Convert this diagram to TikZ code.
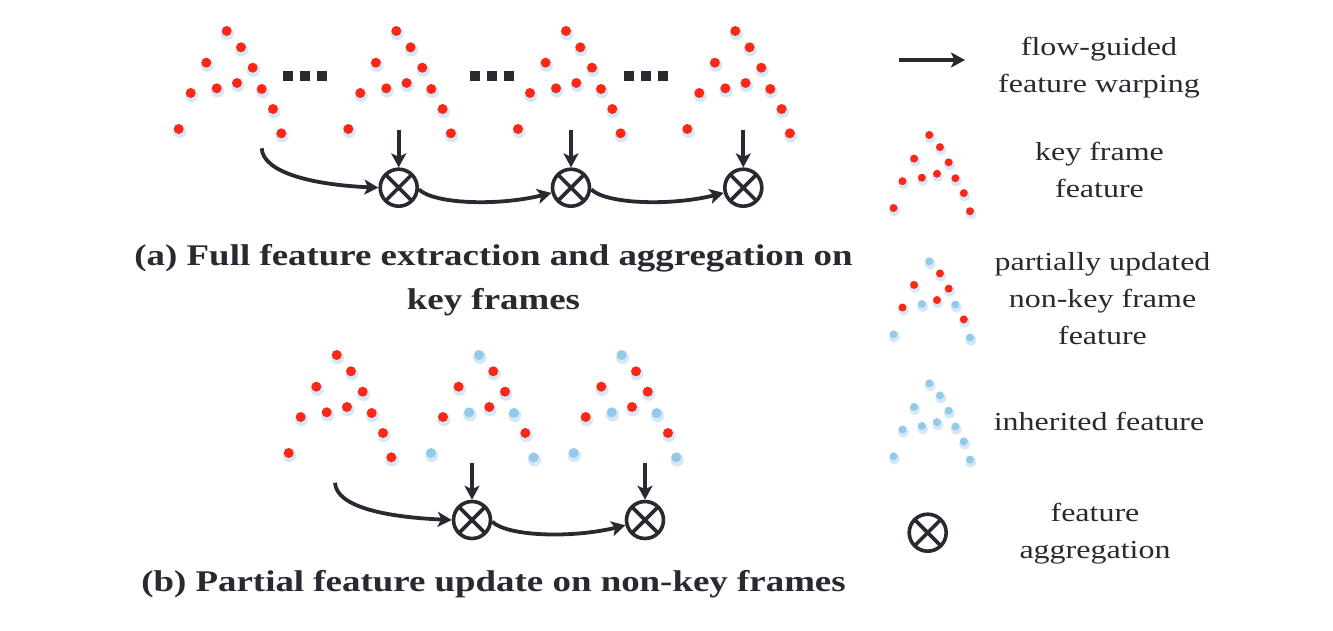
\documentclass[tikz,border=0pt]{standalone}
\usepackage{fontspec}
\setmainfont{Liberation Serif}[FakeStretch=1.23]
\usetikzlibrary{arrows.meta}
\definecolor{ink}{RGB}{40,42,50}
\definecolor{kred}{RGB}{252,40,22}
\definecolor{iblue}{RGB}{145,203,233}
\definecolor{dotshade}{RGB}{212,232,249}
\def\keylist{0/0/kred, 14.3/16.3/kred, -20.4/31.7/kred, 26/36.7/kred, -36/62/kred, -10/57.3/kred, 10.3/52/kred, 35/58/kred, 46.3/78/kred, -48/98/kred, 54.6/102.3/kred}
\def\partlist{0/0/iblue, 14.3/16.3/kred, -20.4/31.7/kred, 26/36.7/kred, -36/62/kred, -10/57.3/iblue, 10.3/52/kred, 35/58/iblue, 46.3/78/kred, -48/98/iblue, 54.6/102.3/iblue}
\def\inhlist{0/0/iblue, 14.3/16.3/iblue, -20.4/31.7/iblue, 26/36.7/iblue, -36/62/iblue, -10/57.3/iblue, 10.3/52/iblue, 35/58/iblue, 46.3/78/iblue, -48/98/iblue, 54.6/102.3/iblue}
\newcommand\featdots[5]{%
  \foreach \dx/\dy/\c in #5 {
    \fill[dotshade] ({#1+#3*\dx+0.8},{#2+#3*\dy+2.6}) circle ({#4+1.6});
  }
  \foreach \dx/\dy/\c in #5 {
    \fill[\c] ({#1+#3*\dx},{#2+#3*\dy}) circle (#4);
  }
}
\newcommand\etcdots[2]{%
  \foreach \k in {-17,0,17} {
    \fill[ink] ({#1+\k-5},{#2-5}) rectangle ++(10,10);
  }
}
\begin{document}
\begin{tikzpicture}[x=1pt,y=-1pt,
  every node/.style={text=ink},
  legend/.style={font=\fontsize{26}{37}\selectfont, align=center},
  caption/.style={font=\fontsize{30}{44}\selectfont\bfseries, align=center},
  agg/.style={circle, draw=ink, line width=3.6pt, minimum size=37pt, inner sep=0pt,
    path picture={\draw[ink, line width=3.6pt]
      (path picture bounding box.south west) -- (path picture bounding box.north east)
      (path picture bounding box.north west) -- (path picture bounding box.south east);}},
  flow/.style={draw=ink, line width=3.8pt, -{Stealth[length=14pt,width=15pt,inset=3.5pt]}}]
\fill[white] (0,0) rectangle (1333,631);
\useasboundingbox (0,0) rectangle (1333,631);

% ---------- (a) key frames ----------
\featdots{226.7}{31}{1}{5}{\keylist}
\featdots{396.3}{31}{1}{5}{\keylist}
\featdots{566}{31}{1}{5}{\keylist}
\featdots{735.3}{31}{1}{5}{\keylist}
\etcdots{304.5}{75.7}
\etcdots{492.3}{75.7}
\etcdots{645.7}{75.7}

\node[agg] (a1) at (398.7,187.7) {};
\node[agg] (a2) at (571,187.7) {};
\node[agg] (a3) at (743.3,187.7) {};
\coordinate (sa) at (261.7,148.3);
\coordinate (da1) at (398.7,130);
\coordinate (da2) at (571,130);
\coordinate (da3) at (743.3,130);

\draw[flow] (da1) -- (a1.north);
\draw[flow] (da2) -- (a2.north);
\draw[flow] (da3) -- (a3.north);
\draw[flow] (sa) .. controls +(1.3,24) and +(-67,-3) .. (a1.west);
\draw[flow] (a1.-5) .. controls +(16,15) and +(-52,13) .. (a2.195);
\draw[flow] (a2.-5) .. controls +(16,15) and +(-52,13) .. (a3.195);

\node[caption] (capa) at (493.5,280.5) {(a) Full feature extraction and aggregation on\\key frames};

% ---------- (b) non-key frames ----------
\featdots{336.7}{355}{1}{5}{\keylist}
\featdots{479}{355}{1}{5}{\partlist}
\featdots{621.7}{355}{1}{5}{\partlist}

\node[agg] (b1) at (472,520) {};
\node[agg] (b2) at (645,520) {};
\coordinate (sb) at (335,482.7);
\coordinate (db1) at (472,463);
\coordinate (db2) at (645,463);

\draw[flow] (db1) -- (b1.north);
\draw[flow] (db2) -- (b2.north);
\draw[flow] (sb) .. controls +(1.3,24) and +(-67,-3) .. (b1.west);
\draw[flow] (b1.-5) .. controls +(16,15) and +(-52,13) .. (b2.195);

\node[caption] (capb) at (493.5,584) {(b) Partial feature update on non-key frames};

% ---------- legend ----------
\coordinate (la0) at (899,60);
\coordinate (la1) at (965,60);
\draw[flow] (la0) -- (la1);
\node[legend] (lflow) at (1099,67.4) {flow-guided\\feature warping};

\featdots{929.3}{135}{0.745}{4}{\keylist}
\node[legend] (lkey) at (1099.5,169.7) {key frame\\feature};

\featdots{929.3}{261.3}{0.745}{4}{\partlist}
\node[legend] (lpart) at (1102.5,299) {partially updated\\non-key frame\\feature};

\featdots{929.3}{383.3}{0.745}{4}{\inhlist}
\node[legend] (linh) at (1099,421) {inherited feature};

\node[agg] (lagg) at (927.7,532.7) {};
\node[legend] (laggt) at (1095,533.7) {feature\\aggregation};
\end{tikzpicture}
\end{document}
